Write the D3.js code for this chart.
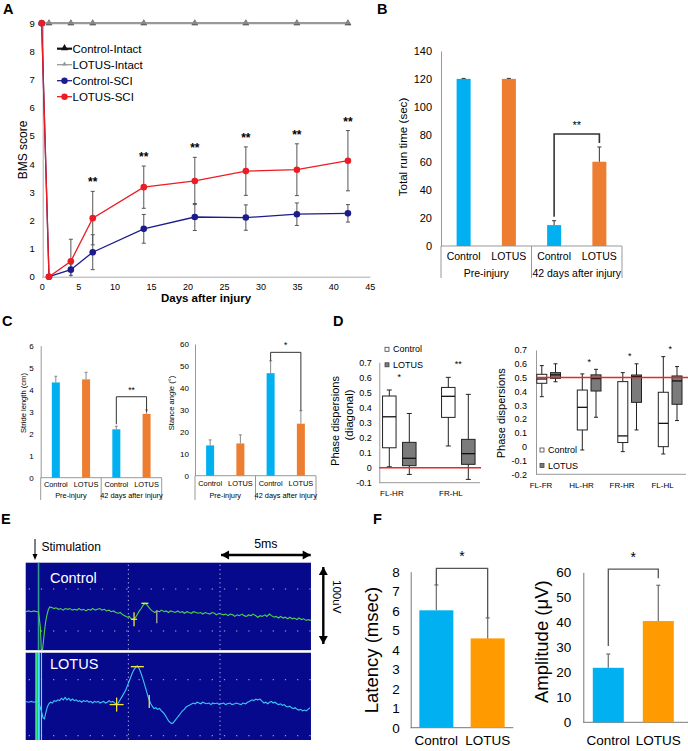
<!DOCTYPE html>
<html><head><meta charset="utf-8">
<script src="https://cdn.jsdelivr.net/npm/d3@7"></script>
<style>
body{margin:0;background:#fff;}
svg{display:block;font-family:"Liberation Sans",Arial,Helvetica,sans-serif;}
</style></head><body>
<svg id="fig" width="688" height="751"></svg>
<script>
// ---------------- DATA ----------------
// Panel A : BMS score
const bmsDays = [0, 1, 4, 7, 14, 21, 28, 35, 42];
const controlIntact = [9, 9, 9, 9, 9, 9, 9, 9, 9];
const lotusIntact = [9, 9, 9, 9, 9, 9, 9, 9, 9];
const controlSCI = [9, 0, 0.25, 0.87, 1.70, 2.12, 2.10, 2.22, 2.25];
const controlSCIErr = [0, 0, 0.2, 0.62, 0.51, 0.48, 0.45, 0.40, 0.31];
const lotusSCI = [9, 0, 0.55, 2.08, 3.18, 3.40, 3.75, 3.80, 4.12];
const lotusSCIErr = [0, 0, 0.78, 0.95, 0.75, 0.84, 0.86, 0.92, 1.07];
const bmsSig = ["", "", "", "**", "**", "**", "**", "**", "**"];
const bmsXTicks = [0, 5, 10, 15, 20, 25, 30, 35, 40, 45];
const bmsYTicks = [0, 1, 2, 3, 4, 5, 6, 7, 8, 9];
const bmsLegend = ["Control-Intact", "LOTUS-Intact", "Control-SCI", "LOTUS-SCI"];

// Shared bar categories
const barCats = ["Control", "LOTUS", "Control", "LOTUS"];
const barGroups = ["Pre-injury", "42 days after injury"];

// Panel B : rotarod run time
const runTime = [120, 120, 15, 60.5];
const runErr = [0.3, 0.3, 3.2, 10.6];
const runTicks = [0, 20, 40, 60, 80, 100, 120, 140];
const runBracket = [2, 3, 80.4, "**"];

// Panel C : stride length / stance angle
const strideLen = [4.33, 4.47, 2.20, 2.90];
const strideErr = [0.28, 0.32, 0.14, 0.18];
const strideTicks = [0, 1, 2, 3, 4, 5, 6];
const strideBracket = [2, 3, 3.68, "**"];
const stanceAng = [13.8, 14.7, 46.7, 23.7];
const stanceErr = [2.5, 3.9, 5.6, 5.9];
const stanceTicks = [0, 10, 20, 30, 40, 50, 60];
const stanceBracket = [2, 3, 56.2, "*"];

// Panel D : phase dispersions  [whiskerLow, q1, median, q3, whiskerHigh]
const diagCats = ["FL-HR", "FR-HL"];
const diagControl = [[0.006, 0.132, 0.338, 0.476, 0.516], [0.144, 0.334, 0.474, 0.533, 0.600]];
const diagLotus = [[-0.045, 0.013, 0.062, 0.168, 0.360], [-0.078, 0.022, 0.093, 0.188, 0.487]];
const diagSig = ["*", "**"];
const diagTicks = [-0.1, 0, 0.1, 0.2, 0.3, 0.4, 0.5, 0.6, 0.7];
const phaseCats = ["FL-FR", "HL-HR", "FR-HR", "FL-HL"];
const phaseControl = [[0.362, 0.459, 0.490, 0.524, 0.587], [-0.024, 0.121, 0.285, 0.410, 0.527],
                      [-0.036, 0.030, 0.078, 0.471, 0.536], [-0.053, 0.000, 0.169, 0.394, 0.652]];
const phaseLotus = [[0.470, 0.495, 0.520, 0.536, 0.600], [0.213, 0.403, 0.493, 0.520, 0.560],
                    [0.121, 0.321, 0.507, 0.519, 0.600], [0.189, 0.307, 0.476, 0.512, 0.580]];
const phaseSig = ["", "*", "*", "*"];
const phaseTicks = [-0.2, -0.1, 0, 0.1, 0.2, 0.3, 0.4, 0.5, 0.6, 0.7];

// Panel E : MEP traces  [time ms, amplitude uV]
const controlTrace = [[-0.6,0],[-0.45,1],[-0.3,0],[-0.15,1],[0,0],[0.1,0],[0.2,-20],[0.25,-48],[0.32,-48],[0.4,-30],[0.48,-14],[0.56,-4],[0.64,3],[0.72,6],[0.85,5],[0.95,4],[1.05,5],[1.2,3],[1.3,4],[1.45,2],[1.55,4],[1.7,3],[1.8,4],[1.95,2],[2.05,3],[2.2,2],[2.3,4],[2.45,2],[2.55,3],[2.7,1],[2.8,3],[2.95,2],[3.05,4],[3.2,2],[3.3,3],[3.45,4],[3.55,2],[3.7,3],[3.8,1],[3.95,2],[4.05,0],[4.2,1],[4.3,-1],[4.45,-2],[4.55,-1],[4.7,-4],[4.8,-5],[4.95,-7],[5.05,-6],[5.15,-9],[5.27,-10],[5.4,-7],[5.5,-3],[5.6,1],[5.7,4],[5.8,8],[5.91,10.6],[6.0,9],[6.1,6],[6.2,3],[6.3,1],[6.45,-1],[6.55,1],[6.7,0],[6.8,2],[6.95,0],[7.05,1],[7.2,-1],[7.3,1],[7.45,0],[7.55,-1],[7.7,1],[7.8,-1],[7.95,0],[8.05,-2],[8.2,0],[8.3,-1],[8.45,-2],[8.55,0],[8.7,-1],[8.8,-2],[8.95,-1],[9.05,-3],[9.2,-1],[9.3,-2],[9.45,-3],[9.55,-1],[9.7,-2],[9.8,-4],[9.95,-2],[10.05,-3],[10.2,-4],[10.3,-3],[10.45,-5],[10.55,-3],[10.7,-4],[10.8,-6],[10.95,-4],[11.05,-5],[11.2,-3],[11.3,-5],[11.45,-6],[11.55,-4],[11.7,-5],[11.8,-3],[11.95,-5],[12.05,-7],[12.2,-5],[12.3,-6],[12.45,-4],[12.55,-6],[12.7,-3],[12.8,-5],[12.95,-7],[13.05,-6],[13.2,-8],[13.3,-6],[13.45,-8],[13.55,-7],[13.7,-9],[13.8,-7],[13.95,-9],[14.05,-8],[14.2,-10],[14.3,-8],[14.45,-10],[14.55,-9],[14.7,-11],[14.8,-10],[14.96,-11]];
const lotusTrace = [[-0.6,2],[-0.45,1],[-0.3,2],[-0.15,1],[0,2],[0.12,0],[0.25,-10],[0.35,-19],[0.42,-20],[0.5,-12],[0.58,-5],[0.66,-1],[0.75,1],[0.85,0],[0.95,3],[1.05,2],[1.15,4],[1.25,3],[1.35,6],[1.45,4],[1.55,7],[1.65,4],[1.75,6],[1.85,3],[1.95,5],[2.05,3],[2.15,4],[2.25,2],[2.35,3],[2.45,1],[2.55,3],[2.65,2],[2.75,3],[2.85,1],[2.95,2],[3.05,0],[3.15,2],[3.25,1],[3.35,2],[3.45,0],[3.55,1],[3.65,2],[3.75,0],[3.85,1],[3.95,3],[4.05,1],[4.15,2],[4.25,0],[4.4,-2],[4.55,4],[4.7,10],[4.85,16],[5.0,25],[5.1,31],[5.2,37],[5.3,42],[5.4,45],[5.49,47],[5.6,43],[5.7,37],[5.8,30],[5.9,22],[6.0,14],[6.1,6],[6.2,0],[6.3,-4],[6.4,-7],[6.5,-6],[6.6,-8],[6.7,-7],[6.8,-10],[6.9,-12],[7.0,-15],[7.1,-19],[7.2,-23],[7.3,-25],[7.37,-26],[7.45,-25],[7.55,-22],[7.65,-19],[7.75,-16],[7.85,-13],[7.95,-10],[8.05,-8],[8.15,-5],[8.3,-3],[8.4,-2],[8.54,0],[8.65,-1],[8.75,1],[8.85,0],[8.95,-1],[9.05,1],[9.15,0],[9.25,-1],[9.4,0],[9.5,-2],[9.6,0],[9.7,-1],[9.85,0],[9.95,-2],[10.05,-1],[10.2,0],[10.3,-2],[10.4,-1],[10.55,0],[10.65,-2],[10.8,-1],[10.9,0],[11.0,-1],[11.15,-2],[11.25,0],[11.4,-1],[11.5,1],[11.6,2],[11.75,4],[11.85,3],[11.95,5],[12.05,4],[12.18,5],[12.3,2],[12.4,0],[12.5,1],[12.6,-1],[12.7,1],[12.8,2],[12.9,0],[13.0,1],[13.1,-1],[13.2,-2],[13.3,-1],[13.4,-3],[13.5,-2],[13.6,-4],[13.7,-5],[13.8,-4],[13.9,-6],[14.0,-7],[14.1,-6],[14.2,-8],[14.3,-9],[14.4,-8],[14.5,-10],[14.6,-9],[14.7,-10],[14.8,-8],[14.9,-6]];
// markers: onset (+), peak (-), end (|)   [time ms, uV]
const controlMarks = [[5.31, -9.6], [5.9, 10.6], [6.55, -6.3]];
const lotusMarks = [[4.36, -2], [5.49, 46], [6.14, 2]];
const gridTimes = [5, 10];
const topGridUV = [28.7, -24.4];
const botGridUV = [29.5, -41.4];

// Panel F : MEP latency / amplitude
const fCats = ["Control", "LOTUS"];
const latency = [6.02, 4.58];
const latencyErr = [1.30, 1.05];
const latencyTicks = [0, 1, 2, 3, 4, 5, 6, 7, 8];
const latencyBracket = [0, 1, 8.17, "*"];
const amplitude = [21.8, 40.5];
const amplitudeErr = [5.5, 14.3];
const amplitudeTicks = [0, 10, 20, 30, 40, 50, 60];
const amplitudeBracket = [0, 1, 61.3, "*"];

// ---------------- HELPERS ----------------
const svg = d3.select("#fig");
const FONT = '"Liberation Sans", Arial, Helvetica, sans-serif';
const CYAN = "#00b0f0", ORANGE = "#ed7d31", ORANGE_F = "#ff9a00";
const intFmt = d => String(d);

function txt(g, x, y, s, o = {}) {
  const t = g.append("text").attr("x", x).attr("y", y).text(s)
    .attr("font-size", o.size || 10).attr("fill", o.fill || "#000")
    .attr("text-anchor", o.anchor || "start").attr("font-family", FONT);
  if (o.weight) t.attr("font-weight", o.weight);
  if (o.baseline) t.attr("dominant-baseline", o.baseline);
  if (o.rotate) t.attr("transform", `rotate(${o.rotate},${x},${y})`);
  return t;
}
function styleAxis(sel, size, domainColor) {
  sel.attr("font-family", FONT).attr("font-size", size);
  sel.selectAll("text").attr("fill", "#000");
  sel.select(".domain").attr("stroke", domainColor);
  sel.selectAll(".tick line").remove();
}
function line(g, x1, y1, x2, y2, c, w) {
  return g.append("line").attr("x1", x1).attr("y1", y1).attr("x2", x2).attr("y2", y2)
    .attr("stroke", c).attr("stroke-width", w);
}
function star(g, x, yCenter, s, size, weight) {
  txt(g, x, yCenter + 0.57 * size, s, {size, anchor: "middle", weight});
}

// panel letters
[["A", 3, 13.5], ["B", 377, 13.5], ["C", 2, 326], ["D", 333, 326], ["E", 1, 523.5], ["F", 373, 523.5]]
  .forEach(([s, x, y]) => txt(svg, x, y, s, {size: 14.5, weight: "bold"}));

// ---------------- PANEL A ----------------
(function () {
  const g = svg.append("g");
  const x = d3.scaleLinear().domain([0, 45]).range([41.7, 369.8]);
  const y = d3.scaleLinear().domain([0, 9]).range([276.7, 23.3]);
  const ay = g.append("g").attr("transform", `translate(${x(0) + 1},0)`)
    .call(d3.axisLeft(y).tickValues(bmsYTicks).tickFormat(intFmt).tickSize(0).tickSizeOuter(0).tickPadding(8));
  styleAxis(ay, 9.5, "#aaa");
  const ax = g.append("g").attr("transform", `translate(0,${y(0)})`)
    .call(d3.axisBottom(x).tickValues(bmsXTicks).tickFormat(intFmt).tickSize(0).tickSizeOuter(0).tickPadding(7));
  styleAxis(ax, 9, "#aaa");
  txt(g, 206, 302, "Days after injury", {size: 11.5, weight: "bold", anchor: "middle"});
  txt(g, 22.7, 150, "BMS score", {size: 12, anchor: "middle", baseline: "central", rotate: -90});

  const ln = d3.line().x((d, i) => x(bmsDays[i])).y(d => y(d));
  const tri = d3.symbol().type(d3.symbolTriangle);

  // intact series
  g.append("path").attr("d", ln(controlIntact)).attr("fill", "none").attr("stroke", "#222").attr("stroke-width", 1.4);
  g.selectAll(".ci").data(controlIntact).join("path").attr("d", tri.size(20)())
    .attr("transform", (d, i) => `translate(${x(bmsDays[i])},${y(d)})`).attr("fill", "#222");
  g.append("path").attr("d", ln(lotusIntact)).attr("fill", "none").attr("stroke", "#9a9a9a").attr("stroke-width", 2);
  g.selectAll(".li").data(lotusIntact).join("path").attr("d", tri.size(17)())
    .attr("transform", (d, i) => `translate(${x(bmsDays[i])},${y(d) - 0.5})`).attr("fill", "#888");

  // error bars
  function errs(vals, err) {
    vals.forEach((v, i) => {
      if (!err[i]) return;
      const cx = x(bmsDays[i]);
      const lo = Math.max(0, v - err[i]), hi = v + err[i];
      line(g, cx, y(lo), cx, y(hi), "#555", 1);
      line(g, cx - 2, y(hi), cx + 2, y(hi), "#555", 1);
      if (lo > 0) line(g, cx - 2, y(lo), cx + 2, y(lo), "#555", 1);
    });
  }
  errs(controlSCI, controlSCIErr);
  errs(lotusSCI, lotusSCIErr);

  const BLUE = "#1c1c8c", RED = "#ec1c24";
  g.append("path").attr("d", ln(controlSCI)).attr("fill", "none").attr("stroke", BLUE).attr("stroke-width", 1.3);
  g.selectAll(".cs").data(controlSCI).join("circle").attr("cx", (d, i) => x(bmsDays[i])).attr("cy", d => y(d))
    .attr("r", 3.3).attr("fill", BLUE);
  g.append("path").attr("d", ln(lotusSCI)).attr("fill", "none").attr("stroke", RED).attr("stroke-width", 1.3);
  g.selectAll(".ls").data(lotusSCI).join("circle").attr("cx", (d, i) => x(bmsDays[i])).attr("cy", d => y(d))
    .attr("r", 3.3).attr("fill", RED);

  bmsSig.forEach((s, i) => {
    if (!s) return;
    star(g, x(bmsDays[i]), y(lotusSCI[i] + lotusSCIErr[i] + 0.42), s, 12, "bold");
  });

  // legend
  const styles = [
    {c: "#111", w: 2.2, m: "tri", ms: 22},
    {c: "#999", w: 1.3, m: "tri", ms: 10},
    {c: BLUE, w: 1.3, m: "dot"},
    {c: RED, w: 1.3, m: "dot"}];
  bmsLegend.forEach((name, i) => {
    const yy = 48.7 + i * 16;
    const st = styles[i];
    line(g, 57, yy, 72, yy, st.c, st.w);
    if (st.m === "tri") g.append("path").attr("d", d3.symbol().type(d3.symbolTriangle).size(st.ms)())
      .attr("transform", `translate(64.5,${yy - 0.5})`).attr("fill", st.c);
    else g.append("circle").attr("cx", 64.5).attr("cy", yy).attr("r", 3.2).attr("fill", st.c);
    txt(g, 72.5, yy, name, {size: 11.5, baseline: "central"});
  });
})();

// ---------------- BAR CHART HELPER ----------------
function barChart(o) {
  const g = svg.append("g");
  const x = d3.scaleBand().domain(d3.range(o.values.length)).range([o.x0, o.x1]);
  const cx = i => x(i) + x.bandwidth() / 2;
  const y = d3.scaleLinear().domain([0, o.ymax]).range([o.yBase, o.yTop]);
  const ay = g.append("g").attr("transform", `translate(${o.x0},0)`)
    .call(d3.axisLeft(y).tickValues(o.ticks).tickFormat(intFmt).tickSize(0).tickSizeOuter(0).tickPadding(o.tickPad));
  styleAxis(ay, o.tickSize, o.axisColor);
  line(g, o.x0, o.yBase, o.x1, o.yBase, o.axisColor, 1);
  g.selectAll(".bar").data(o.values).join("rect")
    .attr("x", (d, i) => cx(i) - o.bw / 2).attr("width", o.bw)
    .attr("y", d => y(d)).attr("height", d => y(0) - y(d))
    .attr("fill", (d, i) => o.colors[i % o.colors.length]);
  o.values.forEach((v, i) => {
    const top = y(v + o.errs[i]);
    line(g, cx(i), y(v), cx(i), top, o.errColor, o.errW);
    line(g, cx(i) - o.cap / 2, top, cx(i) + o.cap / 2, top, o.errColor, o.errW);
  });
  o.cats.forEach((c, i) => txt(g, cx(i), o.catY, c, {size: o.catSize, anchor: "middle"}));
  if (o.groups) {
    const per = o.values.length / o.groups.length;
    const bounds = o.groups.map((gname, k) => x(k * per)).concat([o.x1]);
    bounds.forEach(b => line(g, b, o.yBase, b, o.divBottom, o.axisColor, 1));
    o.groups.forEach((gname, k) => txt(g, (bounds[k] + bounds[k + 1]) / 2, o.groupY, gname, {size: o.catSize, anchor: "middle"}));
  }
  txt(g, o.labX, o.labY, o.label, {size: o.labSize, anchor: "middle", baseline: "central", rotate: -90});
  if (o.bracket) {
    const [a, b, lvl, s] = o.bracket;
    const yb = y(lvl);
    const la = y(o.values[a] + o.errs[a]) - o.legGap[0];
    const lb = y(o.values[b] + o.errs[b]) - o.legGap[1];
    g.append("path").attr("d", `M${cx(a)},${la}V${yb}H${cx(b)}V${lb}`)
      .attr("fill", "none").attr("stroke", o.brColor).attr("stroke-width", o.brW);
    star(g, (cx(a) + cx(b)) / 2, yb - o.starOff, s, o.starSize);
  }
  return {g, x, y};
}

// ---------------- PANEL B ----------------
barChart({values: runTime, errs: runErr, cats: barCats, groups: barGroups, ticks: runTicks,
  x0: 441, x1: 622, yBase: 246, yTop: 51, ymax: 140, bw: 14, colors: [CYAN, ORANGE],
  tickPad: 9, tickSize: 11, axisColor: "#999", errColor: "#444", errW: 1.1, cap: 4,
  catY: 260, groupY: 276.5, catSize: 10.5, divBottom: 278,
  label: "Total run time (sec)", labX: 402, labY: 147, labSize: 11.6,
  bracket: runBracket, legGap: [4, 4], brColor: "#333", brW: 1.6, starOff: 11.3, starSize: 11});

// ---------------- PANEL C ----------------
barChart({values: strideLen, errs: strideErr, cats: barCats, groups: barGroups, ticks: strideTicks,
  x0: 40.7, x1: 161.7, yBase: 477.7, yTop: 345.7, ymax: 6, bw: 8, colors: [CYAN, ORANGE],
  tickPad: 7, tickSize: 8, axisColor: "#999", errColor: "#888", errW: 1, cap: 3,
  catY: 487, groupY: 497.8, catSize: 7.4, divBottom: 500,
  label: "Stride length (cm)", labX: 23.3, labY: 403, labSize: 7.6,
  bracket: strideBracket, legGap: [2, -2], brColor: "#333", brW: 1, starOff: 8.7, starSize: 8.5});
barChart({values: stanceAng, errs: stanceErr, cats: barCats, groups: barGroups, ticks: stanceTicks,
  x0: 195, x1: 316, yBase: 475.7, yTop: 344, ymax: 60, bw: 8, colors: [CYAN, ORANGE],
  tickPad: 6, tickSize: 8, axisColor: "#999", errColor: "#888", errW: 1, cap: 3,
  catY: 485.5, groupY: 497.8, catSize: 7.4, divBottom: 500,
  label: "Stance angle (°)", labX: 171.7, labY: 403, labSize: 7.6,
  bracket: stanceBracket, legGap: [0, 0], brColor: "#333", brW: 1, starOff: 9, starSize: 8.5});

// ---------------- PANEL D ----------------
function boxChart(o) {
  const g = svg.append("g");
  const xg = d3.scaleBand().domain(o.cats).range([o.x0, o.x0 + o.step * o.cats.length]);
  const y = d3.scaleLinear().domain(o.ydom).range([o.yBase, o.yTopPx]);
  const ay = g.append("g").attr("transform", `translate(${o.x0},0)`)
    .call(d3.axisLeft(y).tickValues(o.ticks).tickSize(0).tickSizeOuter(0).tickPadding(o.tickPad)
      .tickFormat(d => String(Math.round(d * 10) / 10)));
  styleAxis(ay, 9, "#999");
  line(g, o.x0, o.yBase, o.axisEnd, o.yBase, "#999", 1);
  o.cats.forEach((c, i) => txt(g, xg(c) + o.labOff, o.catY, c, {size: 8, anchor: "middle"}));
  function box(st, cxp, fill) {
    const [w0, q1, md, q3, w1] = st;
    line(g, cxp, y(w0), cxp, y(w1), "#222", 1);
    line(g, cxp - o.cap / 2, y(w0), cxp + o.cap / 2, y(w0), "#222", 1);
    line(g, cxp - o.cap / 2, y(w1), cxp + o.cap / 2, y(w1), "#222", 1);
    g.append("rect").attr("x", cxp - o.bw / 2).attr("width", o.bw).attr("y", y(q3)).attr("height", y(q1) - y(q3))
      .attr("fill", fill).attr("stroke", "#222").attr("stroke-width", 1);
    line(g, cxp - o.bw / 2, y(md), cxp + o.bw / 2, y(md), "#111", 1.3);
  }
  o.cats.forEach((c, i) => {
    box(o.control[i], xg(c) + o.cOff, "#fff");
    box(o.lotus[i], xg(c) + o.lOff, "#7b7b7b");
    if (o.sig[i]) {
      const top = Math.max(o.control[i][4], o.lotus[i][4]) + o.sigPad;
      star(g, xg(c) + (o.cOff + o.lOff) / 2, y(top), o.sig[i], 9);
    }
  });
  line(g, o.x0, y(o.ref), o.refEnd, y(o.ref), "#e8262a", 1.5);
  // legend
  [["Control", "#fff"], ["LOTUS", "#7b7b7b"]].forEach(([nm, f], i) => {
    const yy = o.legY + i * 15.5;
    g.append("rect").attr("x", o.legX).attr("y", yy - 2).attr("width", 4).attr("height", 4)
      .attr("fill", f).attr("stroke", "#444").attr("stroke-width", 0.8);
    txt(g, o.legX + 8, yy, nm, {size: 9, baseline: "central"});
  });
  return {g, y};
}
boxChart({cats: diagCats, control: diagControl, lotus: diagLotus, sig: diagSig, ticks: diagTicks,
  x0: 379.3, step: 59, ydom: [-0.1, 0.7], yBase: 482.7, yTopPx: 362.3, tickPad: 7.6,
  axisEnd: 480, cOff: 10, lOff: 30, bw: 13.5, cap: 5, labOff: 12.6, catY: 496, sigPad: 0.1,
  ref: 0, refEnd: 481, legX: 385, legY: 349.3});
txt(svg, 335, 421, "Phase dispersions", {size: 11, anchor: "middle", baseline: "central", rotate: -90});
txt(svg, 348.5, 415, "(diagonal)", {size: 11.5, anchor: "middle", baseline: "central", rotate: -90});
boxChart({cats: phaseCats, control: phaseControl, lotus: phaseLotus, sig: phaseSig, ticks: phaseTicks,
  x0: 536, step: 40.5, ydom: [-0.2, 0.7], yBase: 474.3, yTopPx: 350, tickPad: 9,
  axisEnd: 686, cOff: 5.8, lOff: 19.5, bw: 10, cap: 4, labOff: 5, catY: 488, sigPad: 0.07,
  ref: 0.5, refEnd: 688, legX: 540, legY: 450});
txt(svg, 501, 413.3, "Phase dispersions", {size: 11, anchor: "middle", baseline: "central", rotate: -90});

// ---------------- PANEL E ----------------
(function () {
  const g = svg.append("g");
  const x = d3.scaleLinear().domain([-0.6, 15]).range([25.7, 311.7]);
  const yT = d3.scaleLinear().domain([0, 100]).range([611.7, 532.7]);
  const yB = d3.scaleLinear().domain([0, 100]).range([703, 624]);
  const L = x(-0.6), R = x(14.96);
  const NAVY = "#07098c";
  const panels = [[562.7, 650.3, yT, topGridUV, "Control", controlTrace, "#4fd14f", controlMarks],
                  [652.5, 740, yB, botGridUV, "LOTUS", lotusTrace, "#3cc8f5", lotusMarks]];
  g.append("rect").attr("x", L).attr("y", 562.7).attr("width", R - L).attr("height", 740 - 562.7).attr("fill", "#fff");
  panels.forEach(([t, b, y, gridUV, name, trace, col, marks], k) => {
    const id = "clipE" + k;
    g.append("clipPath").attr("id", id).append("rect").attr("x", L).attr("y", t).attr("width", R - L).attr("height", b - t);
    g.append("rect").attr("x", L).attr("y", t).attr("width", R - L).attr("height", b - t).attr("fill", NAVY);
    gridUV.forEach(v => line(g, L + 3, y(v), R, y(v), "#b8bce8", 1).attr("stroke-dasharray", "1.2 11"));
    gridTimes.forEach(tt => line(g, x(tt), t + 2, x(tt), b, "#b8bce8", 1).attr("stroke-dasharray", "1.2 3.2"));
    if (k === 0) {
      line(g, x(0.1), t, x(0.1), b, "#2f9f94", 1.6);
    } else {
      g.append("rect").attr("x", x(-0.08)).attr("y", t).attr("width", x(0.05) - x(-0.08)).attr("height", b - t).attr("fill", "#3ee07a");
      g.append("rect").attr("x", x(0.05)).attr("y", t).attr("width", x(0.17) - x(0.05)).attr("height", b - t).attr("fill", "#45e6f5");
      line(g, x(0.26), t, x(0.26), b, "#45e6f5", 1.2);
    }
    const ln = d3.line().x(d => x(d[0])).y(d => y(d[1]));
    g.append("path").attr("d", ln(trace)).attr("fill", "none").attr("stroke", col).attr("stroke-width", 1.1)
      .attr("clip-path", `url(#${id})`);
    txt(g, 50, k === 0 ? 583 : 668.5, name, {size: 14.5, fill: "#fff"});
    // markers
    const big = k === 1;
    const [on, pk, en] = marks;
    const YEL = "#f3e33b";
    line(g, x(on[0]), y(on[1]) - 7, x(on[0]), y(on[1]) + 7, YEL, 1.3);
    line(g, x(on[0]) - (big ? 7 : 3), y(on[1]), x(on[0]) + (big ? 7 : 3), y(on[1]), YEL, 1.3);
    line(g, x(pk[0]) - (big ? 6.5 : 3.5), y(pk[1]), x(pk[0]) + (big ? 6.5 : 3.5), y(pk[1]), YEL, 1.4);
    line(g, x(en[0]), y(en[1]) - 6.5, x(en[0]), y(en[1]) + 6.5, big ? YEL : "#b0b0a0", 1.3);
  });
  line(g, L, 651.4, R, 651.4, "#fff", 2);

  // arrowheads
  function arrowLine(x1, y1, x2, y2, both) {
    line(g, x1, y1, x2, y2, "#000", 2.4);
    const head = (xa, ya, xb, yb) => {
      const ang = Math.atan2(yb - ya, xb - xa), l = 8, w = 4.5;
      const p = [[xb, yb],
        [xb - l * Math.cos(ang) + w * Math.sin(ang), yb - l * Math.sin(ang) - w * Math.cos(ang)],
        [xb - l * Math.cos(ang) - w * Math.sin(ang), yb - l * Math.sin(ang) + w * Math.cos(ang)]];
      g.append("path").attr("d", "M" + p.join("L") + "Z").attr("fill", "#000");
    };
    head(x1, y1, x2, y2);
    if (both) head(x2, y2, x1, y1);
  }
  // stimulation arrow
  line(g, 35, 539, 35, 555, "#000", 1);
  g.append("path").attr("d", "M32.5,554L37.5,554L35,560Z").attr("fill", "#000");
  txt(g, 41.5, 550.5, "Stimulation", {size: 12});
  // 5 ms scale
  arrowLine(x(10) + 1, 555, x(15) - 1, 555, true);
  txt(g, (x(10) + x(15)) / 2, 547.5, "5ms", {size: 12.4, anchor: "middle"});
  // 100 uV scale
  arrowLine(323.3, yT(57.8) + 1, 323.3, yT(-42.2) - 1, true);
  txt(g, 336.5, 596.7, "100uV", {size: 11.5, anchor: "middle", baseline: "central", rotate: 90});
})();

// ---------------- PANEL F ----------------
barChart({values: latency, errs: latencyErr, cats: fCats, ticks: latencyTicks,
  x0: 410.7, x1: 513.3, yBase: 727.7, yTop: 571.7, ymax: 8, bw: 34, colors: [CYAN, ORANGE_F],
  tickPad: 11, tickSize: 13.5, axisColor: "#777", errColor: "#777", errW: 1.3, cap: 4,
  catY: 745, catSize: 13.5,
  label: "Latency (msec)", labX: 371.7, labY: 650, labSize: 18.5,
  bracket: latencyBracket, legGap: [0, 0], brColor: "#555", brW: 1.3, starOff: 15, starSize: 14});
barChart({values: amplitude, errs: amplitudeErr, cats: fCats, ticks: amplitudeTicks,
  x0: 583.3, x1: 683.3, yBase: 722.3, yTop: 572.3, ymax: 60, bw: 31, colors: [CYAN, ORANGE_F],
  tickPad: 12, tickSize: 13.5, axisColor: "#777", errColor: "#777", errW: 1.3, cap: 4,
  catY: 744.5, catSize: 13.5,
  label: "Amplitude (μV)", labX: 541.7, labY: 641.7, labSize: 18.5,
  bracket: amplitudeBracket, legGap: [8, 7], brColor: "#555", brW: 1.3, starOff: 15, starSize: 14});
// extend amplitude x-axis to the edge
line(svg, 683.3, 722.3, 688, 722.3, "#777", 1);
</script></body></html>
